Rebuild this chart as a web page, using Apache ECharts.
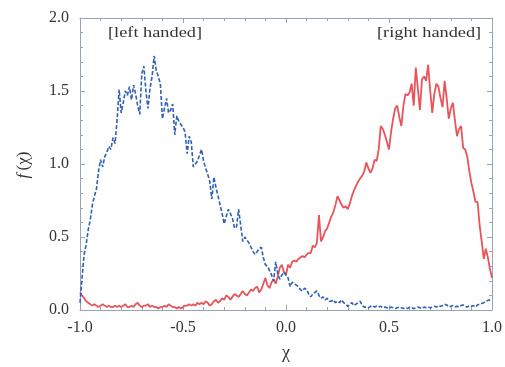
<!DOCTYPE html>
<html>
<head>
<meta charset="utf-8">
<script src="https://cdn.jsdelivr.net/npm/echarts@6/dist/echarts.min.js"></script>
<style>
  html, body { margin: 0; padding: 0; background: #fff; }
  #chart { width: 505px; height: 367px; }
</style>
</head>
<body>
<div id="chart"></div>
<script>
// Distribution f(chi) of the chirality parameter, sampled every 0.01 from -1 to 1
const chiStart = -1.0;
const chiStep = 0.01;

// left-handed population (blue, dashed)
const leftHanded = [
  0.05, 0.22, 0.38, 0.45, 0.55, 0.62, 0.72, 0.78, 0.83, 0.95,
  1.03, 0.98, 1.05, 1.08, 1.12, 1.10, 1.18, 1.14, 1.30, 1.51,
  1.35, 1.42, 1.50, 1.47, 1.53, 1.44, 1.54, 1.48, 1.40, 1.34,
  1.62, 1.67, 1.50, 1.38, 1.52, 1.60, 1.74, 1.64, 1.60, 1.55,
  1.31, 1.38, 1.45, 1.35, 1.37, 1.41, 1.20, 1.33, 1.29, 1.27,
  1.25, 1.22, 1.07, 1.19, 1.15, 0.98, 1.00, 1.02, 1.06, 1.10,
  1.02, 0.97, 0.93, 0.88, 0.76, 0.91, 0.84, 0.78, 0.72, 0.66,
  0.59, 0.64, 0.69, 0.66, 0.63, 0.56, 0.57, 0.69, 0.58, 0.47,
  0.50, 0.48, 0.46, 0.43, 0.40, 0.38, 0.40, 0.42, 0.43, 0.36,
  0.31, 0.30, 0.27, 0.24, 0.20, 0.33, 0.25, 0.21, 0.24, 0.26,
  0.24, 0.22, 0.16, 0.19, 0.18, 0.17, 0.16, 0.14, 0.13, 0.15,
  0.14, 0.11, 0.09, 0.11, 0.12, 0.13, 0.10, 0.08, 0.09, 0.07,
  0.08, 0.06, 0.06, 0.07, 0.05, 0.06, 0.05, 0.07, 0.05, 0.04,
  0.025, 0.04, 0.05, 0.03, 0.04, 0.05, 0.06, 0.03, 0.02, 0.02,
  0.015, 0.025, 0.03, 0.02, 0.025, 0.02, 0.025, 0.015, 0.02, 0.015,
  0.01, 0.02, 0.015, 0.01, 0.015, 0.02, 0.015, 0.01, 0.015, 0.01,
  0.02, 0.015, 0.01, 0.015, 0.02, 0.015, 0.01, 0.02, 0.015, 0.02,
  0.015, 0.02, 0.025, 0.02, 0.03, 0.025, 0.03, 0.04, 0.035, 0.02,
  0.025, 0.03, 0.02, 0.025, 0.02, 0.03, 0.035, 0.025, 0.02, 0.03,
  0.025, 0.03, 0.02, 0.035, 0.04, 0.045, 0.05, 0.06, 0.065, 0.07,
  0.08
];

// right-handed population (red, solid)
const rightHanded = [
  0.12, 0.10, 0.08, 0.06, 0.05, 0.04, 0.03, 0.04, 0.03, 0.02,
  0.03, 0.04, 0.03, 0.02, 0.03, 0.02, 0.02, 0.03, 0.02, 0.03,
  0.02, 0.03, 0.04, 0.02, 0.02, 0.03, 0.02, 0.04, 0.05, 0.03,
  0.02, 0.03, 0.03, 0.04, 0.02, 0.03, 0.02, 0.02, 0.01, 0.02,
  0.02, 0.03, 0.02, 0.04, 0.03, 0.02, 0.02, 0.01, 0.02, 0.01,
  0.02, 0.03, 0.03, 0.04, 0.03, 0.04, 0.03, 0.05, 0.04, 0.05,
  0.04, 0.06, 0.05, 0.03, 0.04, 0.06, 0.07, 0.05, 0.06, 0.08,
  0.07, 0.10, 0.09, 0.07, 0.09, 0.11, 0.10, 0.09, 0.11, 0.13,
  0.11, 0.10, 0.12, 0.14, 0.13, 0.15, 0.16, 0.12, 0.14, 0.18,
  0.22, 0.17, 0.15, 0.19, 0.21, 0.18, 0.23, 0.29, 0.31, 0.26,
  0.24, 0.31, 0.29, 0.33, 0.34, 0.33, 0.35, 0.36, 0.37, 0.36,
  0.38, 0.39, 0.39, 0.44, 0.43, 0.46, 0.65, 0.47, 0.50, 0.54,
  0.56, 0.60, 0.64, 0.67, 0.72, 0.78, 0.75, 0.72, 0.70, 0.71,
  0.69, 0.73, 0.78, 0.82, 0.85, 0.88, 0.90, 0.92, 0.95, 1.01,
  0.97, 0.94, 0.97, 1.03, 1.02, 1.10, 1.26, 1.24, 1.20, 1.15,
  1.10, 1.22, 1.31, 1.38, 1.40, 1.32, 1.26, 1.40, 1.48, 1.47,
  1.49, 1.55, 1.40, 1.66, 1.52, 1.37, 1.58, 1.60, 1.57, 1.68,
  1.50, 1.35, 1.48, 1.55, 1.53, 1.45, 1.39, 1.57, 1.45, 1.31,
  1.38, 1.42, 1.30, 1.19, 1.24, 1.26, 1.11, 1.10, 1.05, 0.95,
  0.87, 0.81, 0.74, 0.74, 0.58, 0.47, 0.35, 0.42, 0.36, 0.28,
  0.22
];

const xTicks = [-1.0, -0.5, 0.0, 0.5, 1.0];
const yTicks = [0.0, 0.5, 1.0, 1.5, 2.0];

function toPairs(values) {
  return values.map((v, i) => [+(chiStart + i * chiStep).toFixed(2), v]);
}

const serif = '"Liberation Serif", "DejaVu Serif", serif';
const frameColor = '#98a3b8';
const textColor = '#333333';

const chart = echarts.init(document.getElementById('chart'), null, { renderer: 'canvas' });

const baseAxis = {
  axisLine: { show: true, onZero: false, lineStyle: { color: frameColor, width: 1 } },
  axisTick: { show: true, inside: true, length: 5, lineStyle: { color: frameColor } },
  minorTick: { show: true, splitNumber: 5, length: 3, lineStyle: { color: frameColor } },
  splitLine: { show: false },
  minorSplitLine: { show: false }
};

chart.setOption({
  animation: false,
  backgroundColor: '#ffffff',
  grid: { left: 80, right: 10, top: 18, bottom: 55 },
  xAxis: [
    Object.assign({}, baseAxis, {
      type: 'value', min: -1, max: 1, interval: 0.5,
      name: 'χ', nameLocation: 'middle', nameGap: 34,
      nameTextStyle: { fontFamily: serif, fontSize: 18, color: textColor },
      axisLabel: {
        fontFamily: serif, fontSize: 16, color: textColor, margin: 10,
        formatter: v => xTicks.includes(v) ? v.toFixed(1) : ''
      }
    }),
    Object.assign({}, baseAxis, {
      type: 'value', min: -1, max: 1, interval: 0.5, position: 'top',
      axisLabel: { show: false }
    })
  ],
  yAxis: [
    Object.assign({}, baseAxis, {
      type: 'value', min: 0, max: 2, interval: 0.5,
      axisLabel: {
        fontFamily: serif, fontSize: 16, color: textColor, margin: 11,
        formatter: v => yTicks.includes(v) ? v.toFixed(1) : ''
      }
    }),
    Object.assign({}, baseAxis, {
      type: 'value', min: 0, max: 2, interval: 0.5, position: 'right',
      axisLabel: { show: false }
    })
  ],
  graphic: [
    {
      type: 'text', x: 108, y: 26, scaleX: 1.22,
      style: { text: '[left handed]', font: '15px ' + serif, fill: textColor, verticalAlign: 'top' }
    },
    {
      type: 'text', x: 377, y: 26, scaleX: 1.22,
      style: { text: '[right handed]', font: '15px ' + serif, fill: textColor, verticalAlign: 'top' }
    },
    {
      type: 'text', x: 24, y: 165, rotation: Math.PI / 2,
      style: {
        rich: {
          f: { font: 'italic 17px ' + serif, fill: textColor },
          p: { font: '17px ' + serif, fill: textColor }
        },
        text: '{f|f} {p|(χ)}', align: 'center', verticalAlign: 'middle'
      }
    }
  ],
  series: [
    {
      name: 'left handed', type: 'line', showSymbol: false, smooth: false,
      data: toPairs(leftHanded),
      lineStyle: { color: '#2f5fb3', width: 1.6, type: [4, 2] },
      z: 3
    },
    {
      name: 'right handed', type: 'line', showSymbol: false, smooth: false,
      data: toPairs(rightHanded),
      lineStyle: { color: '#e8545b', width: 1.8 },
      z: 2
    }
  ]
});
</script>
</body>
</html>
